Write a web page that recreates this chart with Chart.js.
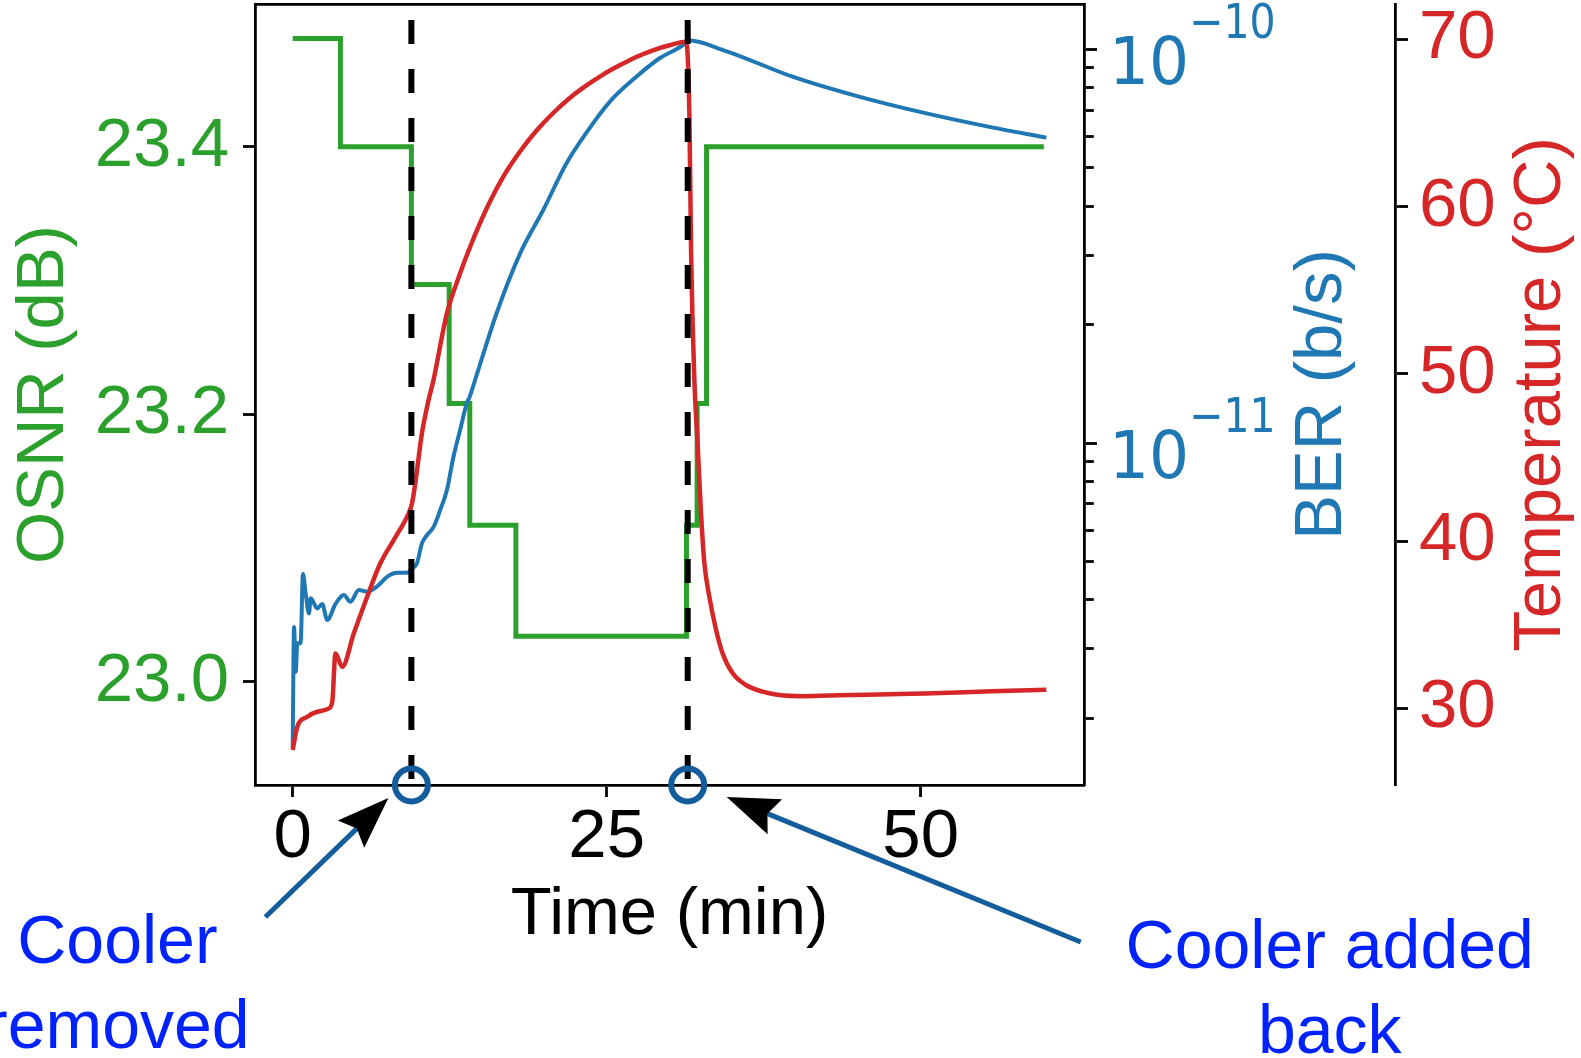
<!DOCTYPE html>
<html>
<head>
<meta charset="utf-8">
<script src="https://cdn.jsdelivr.net/npm/chart.js@4.4.0/dist/chart.umd.min.js"></script>
<style>
  html, body { margin: 0; padding: 0; background: #fff; }
  canvas { display: block; }
</style>
</head>
<body>
<canvas id="osnrChart" width="1581" height="1058"></canvas>
<script>
// OSNR is a step trace: each level starts at the matching time (min)
const osnrTimes = [0, 3.8, 9.45, 12.46, 14.1, 17.77, 31.35, 32.2, 32.95, 59.8];
const osnrLevels = [23.481, 23.4, 23.297, 23.208, 23.117, 23.034, 23.117, 23.208, 23.4, 23.4];

// BER (log axis)
const berTimes = [0, 0.11, 0.24, 0.37, 0.63, 0.82, 1.03, 1.3, 1.43, 1.96, 2.35, 2.75, 3.41, 4.07, 4.6, 5.26,
  5.93, 6.72, 7.51, 8.31, 9.1, 9.5, 9.89, 10.29, 10.69, 11.22, 11.75, 12.28, 12.8, 13.33, 13.86, 14.1,
  14.52, 16.24, 18.1, 19.95, 21.8, 23.91, 25.5, 27.36, 29.21, 31.06, 31.45,
  34.5, 39.79, 45.08, 50.37, 55.66, 60.0];
const berValues = [1.69e-12, 3.41e-12, 2.62e-12, 3.1e-12, 3.1e-12, 4.65e-12, 4.15e-12, 3.69e-12, 4.03e-12,
  3.8e-12, 3.9e-12, 3.55e-12, 3.9e-12, 4.11e-12, 3.95e-12, 4.23e-12, 4.19e-12, 4.32e-12, 4.57e-12,
  4.68e-12, 4.68e-12, 4.8e-12, 4.94e-12, 5.56e-12, 5.83e-12, 6.12e-12, 6.76e-12, 7.6e-12, 9.23e-12,
  1.079e-11, 1.262e-11, 1.312e-11,
  1.445e-11, 2.14e-11, 3.03e-11, 3.91e-11, 5.14e-11, 6.49e-11, 7.52e-11, 8.53e-11, 9.5e-11, 1.026e-10, 1.055e-10,
  9.91e-11, 8.53e-11, 7.59e-11, 6.89e-11, 6.34e-11, 5.97e-11];

// Temperature (°C)
const tempTimes = [0, 0.37, 1.17, 1.96, 2.89, 3.15, 3.41, 3.94, 4.87, 5.93, 6.98, 8.04, 9.23, 9.5, 9.76,
  10.29, 10.82, 11.21, 12.28, 13.33, 14.13, 15.45, 16.77, 18.1, 19.42, 20.74, 22.06, 23.39, 24.71,
  26.03, 27.36, 28.68, 30.0, 31.33, 31.59, 31.72, 31.98, 32.25, 32.51, 32.78, 33.17, 33.71, 34.23,
  35.03, 36.09, 37.41, 38.73, 40.58, 42.7, 46.67, 50.37, 55.66, 60.0];
const tempValues = [27.5, 28.89, 29.49, 29.79, 29.99, 30.39, 33.28, 32.48, 34.48, 36.67, 38.67, 40.06,
  41.66, 42.25, 43.45, 46.44, 48.43, 49.63, 53.62, 56.01, 57.6, 59.9, 61.8, 63.3, 64.55, 65.6,
  66.5, 67.25, 67.9, 68.45, 68.95, 69.35, 69.65, 69.86, 65.18, 57.2, 49.63, 45.64, 41.66, 38.67,
  36.67, 34.68, 33.28, 32.09, 31.39, 30.99, 30.79, 30.72, 30.76, 30.83, 30.88, 31.01, 31.1];

// cooler events
const eventTimes = [9.45, 31.45];
const eventLabels = [["Cooler", "removed"], ["Cooler added", "back"]];

// ticks
const timeTicks = [0, 25, 50];
const osnrTicks = [23.0, 23.2, 23.4];
const tempTicks = [30, 40, 50, 60, 70];
const berMajorTicks = [1e-11, 1e-10];
const berExponents = ["\u221211", "\u221210"];
const berMinorTicks = [2e-12, 3e-12, 4e-12, 5e-12, 6e-12, 7e-12, 8e-12, 9e-12,
  2e-11, 3e-11, 4e-11, 5e-11, 6e-11, 7e-11, 8e-11, 9e-11];

// axis ranges
const xRange = [-3, 63];
const osnrRange = [22.9228, 23.5067];
const berRange = [1.352e-12, 1.305e-10];
const tempRange = [25.41, 72.12];

const GREEN = "#2ca02c";
const BLUE = "#1f77b4";
const RED = "#d62728";
const MARK = "#145d9c";
const NOTE = "#0022ff";

// annotation placement, offsets from (event x, bottom of plot)
const notes = [
  { tip: [-23, 13], tail: [-146, 132], textX: -294, lineY: [178, 263] },
  { tip: [39, 12], tail: [393, 157], textX: 642, lineY: [183, 268] }
];

const toPoints = (xs, ys) => xs.map((x, i) => ({ x: x, y: ys[i] }));

function drawArrow(ctx, x0, y0, x1, y1) {
  const len = Math.hypot(x1 - x0, y1 - y0);
  const ux = (x1 - x0) / len, uy = (y1 - y0) / len;
  const nx = -uy, ny = ux;
  const L = 52, W = 19, notch = 8;
  ctx.strokeStyle = MARK;
  ctx.lineWidth = 5;
  ctx.beginPath();
  ctx.moveTo(x0, y0);
  ctx.lineTo(x1 - ux * (L - notch), y1 - uy * (L - notch));
  ctx.stroke();
  ctx.fillStyle = "#000";
  ctx.beginPath();
  ctx.moveTo(x1, y1);
  ctx.lineTo(x1 - ux * L + nx * W, y1 - uy * L + ny * W);
  ctx.lineTo(x1 - ux * (L - notch), y1 - uy * (L - notch));
  ctx.lineTo(x1 - ux * L - nx * W, y1 - uy * L - ny * W);
  ctx.closePath();
  ctx.fill();
}

function drawVerticalTitle(ctx, text, x, y, color) {
  ctx.save();
  ctx.translate(x, y);
  ctx.rotate(-Math.PI / 2);
  ctx.fillStyle = color;
  ctx.font = '67px "Liberation Sans"';
  ctx.textAlign = "center";
  ctx.textBaseline = "middle";
  ctx.fillText(text, 0, 0);
  ctx.restore();
}

function drawStretched(ctx, text, x, y, size, sy) {
  ctx.save();
  ctx.translate(x, y);
  ctx.scale(1, sy);
  ctx.font = size + 'px "DejaVu Sans"';
  ctx.fillText(text, 0, 0);
  const w = ctx.measureText(text).width;
  ctx.restore();
  return w;
}

const overlayPlugin = {
  id: "overlay",
  afterDraw(chart) {
    const { ctx, chartArea, scales } = chart;
    const midY = (chartArea.top + chartArea.bottom) / 2;
    ctx.save();

    // BER tick labels as 10^n
    ctx.fillStyle = BLUE;
    ctx.textAlign = "left";
    ctx.textBaseline = "alphabetic";
    berMajorTicks.forEach((v, i) => {
      const y = scales.yBer.getPixelForValue(v);
      const x = scales.yBer.left + 25;
      const w = drawStretched(ctx, "10", x, y + 35, 63, 1.05);
      drawStretched(ctx, berExponents[i], x + w, y - 11.5, 41, 1.19);
    });

    // right-hand axis titles, reading bottom to top
    drawVerticalTitle(ctx, "BER (b/s)", scales.yBer.left + 239, midY, BLUE);
    drawVerticalTitle(ctx, "Temperature (\u00b0C)", scales.yTemp.left + 147, midY, RED);

    // arrows and notes
    eventTimes.forEach((t, i) => {
      const px = scales.x.getPixelForValue(t);
      const by = chartArea.bottom;
      const n = notes[i];
      drawArrow(ctx, px + n.tail[0], by + n.tail[1], px + n.tip[0], by + n.tip[1]);
      ctx.fillStyle = NOTE;
      ctx.font = '68px "Liberation Sans"';
      ctx.textAlign = "center";
      ctx.textBaseline = "alphabetic";
      eventLabels[i].forEach((line, j) => {
        ctx.fillText(line, px + n.textX, by + n.lineY[j]);
      });
    });
    ctx.restore();
  }
};

Chart.defaults.font.family = '"Liberation Sans", Arial, sans-serif';

const lineDefaults = { pointRadius: 0, pointHoverRadius: 0, fill: false, borderJoinStyle: "round" };

const datasets = [
  {
    label: "events",
    data: eventTimes.map(t => ({ x: t, y: osnrRange[0] })),
    yAxisID: "yOsnr",
    showLine: false,
    pointRadius: 16.5,
    pointHoverRadius: 16.5,
    pointBorderWidth: 6,
    pointBorderColor: MARK,
    pointBackgroundColor: "rgba(0,0,0,0)",
    clip: false
  },
  ...eventTimes.map(t => ({
    ...lineDefaults,
    label: "event line",
    data: [{ x: t, y: osnrRange[1] }, { x: t, y: osnrRange[0] }],
    yAxisID: "yOsnr",
    borderColor: "#000",
    borderWidth: 6,
    borderDash: [24, 25],
    borderDashOffset: 33
  })),
  {
    ...lineDefaults,
    label: "Temperature",
    data: toPoints(tempTimes, tempValues),
    yAxisID: "yTemp",
    borderColor: RED,
    borderWidth: 4.5,
    cubicInterpolationMode: "monotone"
  },
  {
    ...lineDefaults,
    label: "BER",
    data: toPoints(berTimes, berValues),
    yAxisID: "yBer",
    borderColor: BLUE,
    borderWidth: 4,
    cubicInterpolationMode: "monotone"
  },
  {
    ...lineDefaults,
    label: "OSNR",
    data: toPoints(osnrTimes, osnrLevels),
    yAxisID: "yOsnr",
    borderColor: GREEN,
    borderWidth: 5,
    borderJoinStyle: "miter",
    stepped: "before"
  }
];
datasets.forEach(d => { d.xAxisID = "x"; });

const tickGrid = (len) => ({
  drawOnChartArea: false,
  tickLength: len,
  tickWidth: 2.8,
  tickColor: "#000"
});
const spine = { color: "#000", width: 2.8 };
const noPad = (s) => { s.paddingTop = 0; s.paddingBottom = 0; s.paddingLeft = 0; s.paddingRight = 0; };

new Chart(document.getElementById("osnrChart"), {
  type: "line",
  data: { datasets: datasets },
  options: {
    responsive: false,
    animation: false,
    events: [],
    layout: { padding: 0, autoPadding: false },
    plugins: { legend: { display: false }, tooltip: { enabled: false } },
    scales: {
      x: {
        type: "linear",
        position: "bottom",
        min: xRange[0],
        max: xRange[1],
        afterBuildTicks: s => { s.ticks = timeTicks.map(v => ({ value: v })); },
        afterFit: s => { s.height = 273; noPad(s); },
        grid: tickGrid(12),
        border: spine,
        ticks: { color: "#000", font: { size: 69 }, padding: 0, maxRotation: 0, autoSkip: false },
        title: { display: true, text: "Time (min)", color: "#000", font: { size: 67 }, padding: { top: 0, bottom: 102 } }
      },
      xTop: {
        type: "linear",
        position: "top",
        min: xRange[0],
        max: xRange[1],
        afterFit: s => { s.height = 4; noPad(s); },
        grid: { display: false },
        ticks: { display: false },
        border: spine
      },
      yOsnr: {
        type: "linear",
        position: "left",
        min: osnrRange[0],
        max: osnrRange[1],
        afterBuildTicks: s => { s.ticks = osnrTicks.map(v => ({ value: v })); },
        afterFit: s => { s.width = 255; noPad(s); },
        grid: tickGrid(12),
        border: spine,
        ticks: { color: GREEN, font: { size: 69 }, padding: 14, autoSkip: false, callback: v => v.toFixed(1) },
        title: { display: true, text: "OSNR (dB)", color: GREEN, font: { size: 67 }, padding: { top: 4, bottom: 0 } }
      },
      yBer: {
        type: "logarithmic",
        position: "right",
        weight: 0,
        min: berRange[0],
        max: berRange[1],
        afterBuildTicks: s => {
          s.ticks = berMinorTicks.concat(berMajorTicks).sort((a, b) => a - b).map(v => ({ value: v }));
        },
        afterFit: s => { s.width = 311; noPad(s); },
        grid: {
          ...tickGrid(13),
          tickBorderDash: c => (c.tick && !berMajorTicks.includes(c.tick.value)) ? [8, 60] : []
        },
        border: spine,
        ticks: { display: false, autoSkip: false }
      },
      yTemp: {
        type: "linear",
        position: "right",
        weight: 1,
        min: tempRange[0],
        max: tempRange[1],
        afterBuildTicks: s => { s.ticks = tempTicks.map(v => ({ value: v })); },
        afterFit: s => { s.width = 186; noPad(s); },
        grid: tickGrid(13),
        border: spine,
        ticks: { color: RED, font: { size: 69 }, padding: 11, autoSkip: false }
      }
    }
  },
  plugins: [overlayPlugin]
});
</script>
</body>
</html>
